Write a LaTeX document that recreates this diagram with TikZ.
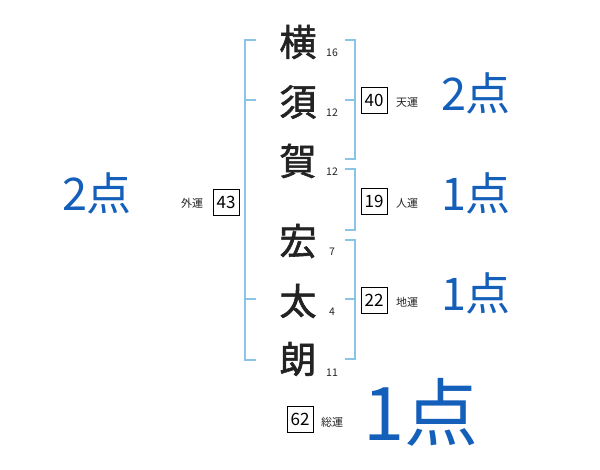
\documentclass[tikz,border=0pt]{standalone}
\usepackage{fontspec}
\setmainfont{Noto Sans CJK JP}
\newfontfamily\jp{Noto Sans CJK JP}
\newfontfamily\jpk[FakeBold=1.6]{Noto Sans CJK JP}
\definecolor{brk}{RGB}{140,196,232}
\definecolor{score}{RGB}{20,95,185}
\definecolor{ink}{RGB}{35,35,35}
\begin{document}
\begin{tikzpicture}[x=1pt,y=-1pt,
  brak/.style={draw=brk,line width=1.6pt},
  kanji/.style={font=\jpk\fontsize{37}{37}\selectfont,text=ink,inner sep=0pt},
  strokes/.style={font=\jp\fontsize{10.5}{10.5}\selectfont,text=ink,inner sep=0pt},
  numbox/.style={draw=black,line width=0.7pt,minimum width=26pt,minimum height=26pt,inner sep=0pt,font=\jp\fontsize{17}{17}\selectfont},
  unlabel/.style={font=\jp\fontsize{11}{11}\selectfont,text=ink,inner sep=0pt},
  pts/.style={font=\jp\fontsize{45}{45}\selectfont,text=score,inner sep=0pt},
  bigpts/.style={font=\jp\fontsize{74}{74}\selectfont,text=score,inner sep=0pt}]
\useasboundingbox (0,0) rectangle (600,470);
% characters
\node[kanji] (c1) at (298,42) {横};
\node[kanji] (c2) at (298,102) {須};
\node[kanji] (c3) at (298,161) {賀};
\node[kanji] (c4) at (298,241) {宏};
\node[kanji] (c5) at (298,301) {太};
\node[kanji] (c6) at (298,359) {朗};
% stroke counts
\node[strokes] (s1) at (332,53) {16};
\node[strokes] (s2) at (332,113) {12};
\node[strokes] (s3) at (332,172) {12};
\node[strokes] (s4) at (332,252) {7};
\node[strokes] (s5) at (332,312) {4};
\node[strokes] (s6) at (332,373) {11};
% brackets
\coordinate (L1) at (256,40); \coordinate (L2) at (256,360);
\draw[brak] (L1) -- (245,40) -- (245,360) -- (L2);
\coordinate (Lt1) at (256,100); \coordinate (Lt2) at (256,299);
\draw[brak] (245,100) -- (Lt1);
\draw[brak] (245,299) -- (Lt2);
\coordinate (R1a) at (345,40); \coordinate (R1b) at (345,159);
\draw[brak] (R1a) -- (355,40) -- (355,159) -- (R1b);
\coordinate (R1t) at (345,100); \draw[brak] (355,100) -- (R1t);
\coordinate (R2a) at (345,169); \coordinate (R2b) at (345,230);
\draw[brak] (R2a) -- (355,169) -- (355,230) -- (R2b);
\coordinate (R3a) at (345,240); \coordinate (R3b) at (345,359);
\draw[brak] (R3a) -- (355,240) -- (355,359) -- (R3b);
\coordinate (R3t) at (345,299); \draw[brak] (355,299) -- (R3t);
% boxes
\node[numbox] (ten) at (374,100) {40};
\node[unlabel] (tenl) at (407,102) {天運};
\node[numbox] (jin) at (374,201) {19};
\node[unlabel] (jinl) at (407,203) {人運};
\node[numbox] (chi) at (374,300) {22};
\node[unlabel] (chil) at (407,302) {地運};
\node[numbox] (gai) at (226,202) {43};
\node[unlabel] (gail) at (192,203) {外運};
\node[numbox] (sou) at (300,419) {62};
\node[unlabel] (soul) at (332,422) {総運};
% scores
\node[pts] (p1) at (476,93) {2点};
\node[pts] (p2) at (476,193) {1点};
\node[pts] (p3) at (476,293) {1点};
\node[pts] (p4) at (97,193) {2点};
\node[bigpts] (p5) at (421,412) {1点};
\end{tikzpicture}
\end{document}
